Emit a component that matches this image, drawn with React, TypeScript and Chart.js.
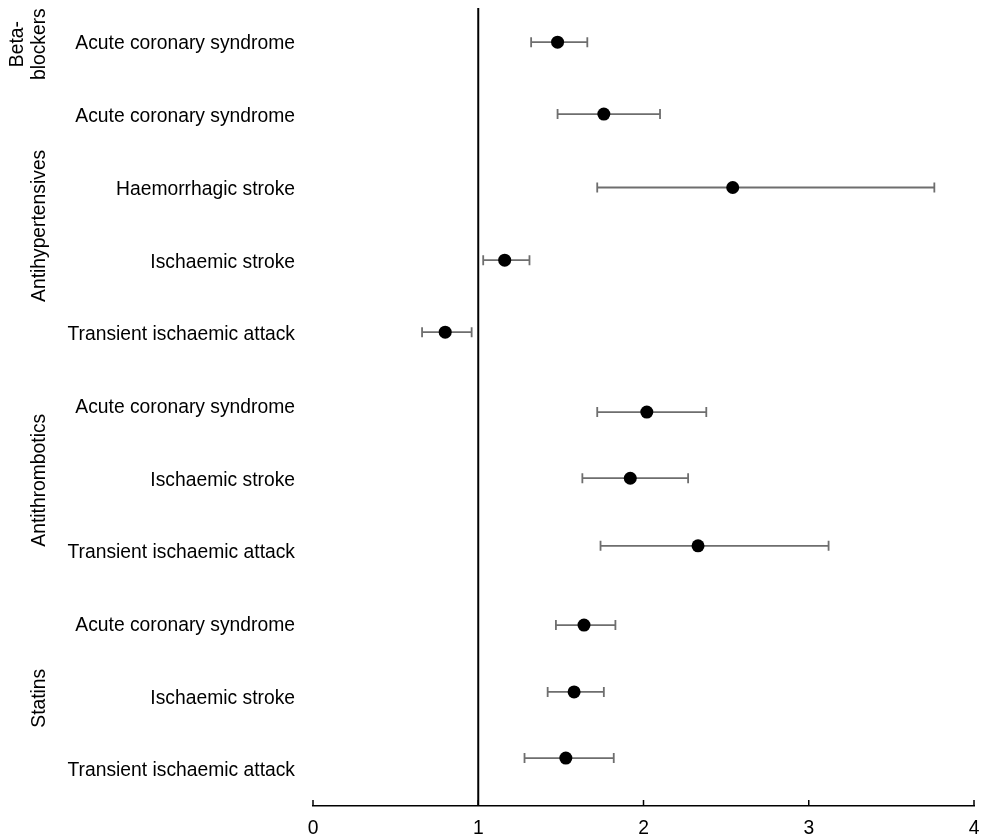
import React, { useEffect, useRef } from "react";
import { Chart, registerables } from "chart.js";

Chart.register(...registerables);

const categories = [
  "Acute coronary syndrome",
  "Acute coronary syndrome",
  "Haemorrhagic stroke",
  "Ischaemic stroke",
  "Transient ischaemic attack",
  "Acute coronary syndrome",
  "Ischaemic stroke",
  "Transient ischaemic attack",
  "Acute coronary syndrome",
  "Ischaemic stroke",
  "Transient ischaemic attack",
];

const groupNames = [["Beta-", "blockers"], ["Antihypertensives"], ["Antithrombotics"], ["Statins"]];
const groupSizes = [1, 4, 3, 3];

const estimates = [1.48, 1.76, 2.54, 1.16, 0.8, 2.02, 1.92, 2.33, 1.64, 1.58, 1.53];
const lowerCI = [1.32, 1.48, 1.72, 1.03, 0.66, 1.72, 1.63, 1.74, 1.47, 1.42, 1.28];
const upperCI = [1.66, 2.1, 3.76, 1.31, 0.96, 2.38, 2.27, 3.12, 1.83, 1.76, 1.82];
const pointRows = [0, 0.99, 2.0, 3.0, 3.99, 5.09, 6.0, 6.93, 8.02, 8.94, 9.85];

const xTicks = [0, 1, 2, 3, 4];
const referenceValue = 1;

const FONT = "'Liberation Sans', Arial, sans-serif";
const FONT_SIZE = 19.3;

export default function App() {
  const ref = useRef<HTMLCanvasElement | null>(null);

  useEffect(() => {
    document.body.style.margin = "0";
    const canvas = ref.current;
    if (!canvas) return;

    const forestPlugin = {
      id: "forest",
      beforeDatasetsDraw(chart: any) {
        const ctx = chart.ctx;
        const xs = chart.scales.x;
        const ys = chart.scales.y;
        const area = chart.chartArea;
        ctx.save();
        ctx.strokeStyle = "#000";
        ctx.lineWidth = 2;
        const rx = xs.getPixelForValue(referenceValue);
        ctx.beginPath();
        ctx.moveTo(rx, area.top);
        ctx.lineTo(rx, area.bottom);
        ctx.stroke();
        ctx.strokeStyle = "#6e6e6e";
        ctx.lineWidth = 1.8;
        for (let i = 0; i < estimates.length; i++) {
          const y = ys.getPixelForValue(pointRows[i]);
          const x1 = xs.getPixelForValue(lowerCI[i]);
          const x2 = xs.getPixelForValue(upperCI[i]);
          ctx.beginPath();
          ctx.moveTo(x1, y);
          ctx.lineTo(x2, y);
          ctx.moveTo(x1, y - 5);
          ctx.lineTo(x1, y + 5);
          ctx.moveTo(x2, y - 5);
          ctx.lineTo(x2, y + 5);
          ctx.stroke();
        }
        ctx.restore();
      },
      afterDraw(chart: any) {
        const ctx = chart.ctx;
        const xs = chart.scales.x;
        const ys = chart.scales.y;
        const area = chart.chartArea;
        ctx.save();
        ctx.strokeStyle = "#000";
        ctx.lineWidth = 1.5;
        for (const t of xTicks) {
          const px = xs.getPixelForValue(t);
          ctx.beginPath();
          ctx.moveTo(px, area.bottom);
          ctx.lineTo(px, area.bottom - 6);
          ctx.stroke();
        }
        ctx.fillStyle = "#000";
        ctx.font = `${FONT_SIZE}px ${FONT}`;
        ctx.textAlign = "center";
        ctx.textBaseline = "middle";
        let start = 0;
        groupNames.forEach((lines, gi) => {
          const end = start + groupSizes[gi] - 1;
          const cy = (ys.getPixelForValue(start) + ys.getPixelForValue(end)) / 2 + 2;
          const lh = 22;
          const cx = 40;
          lines.forEach((line, li) => {
            const x = cx - (lines.length - 1 - li) * lh;
            ctx.save();
            ctx.translate(x, cy);
            ctx.rotate(-Math.PI / 2);
            ctx.fillText(line, 0, 0);
            ctx.restore();
          });
          start = end + 1;
        });
        ctx.restore();
      },
    };

    const chart: any = new Chart(canvas, {
      type: "scatter",
      data: {
        datasets: [
          {
            data: estimates.map((v, i) => ({ x: v, y: pointRows[i] })),
            backgroundColor: "#000",
            borderWidth: 0,
            pointRadius: 6.5,
            pointHoverRadius: 6.5,
          },
        ],
      },
      options: {
        responsive: false,
        animation: false,
        layout: { padding: { top: 8, right: 11, left: 0, bottom: 0 } },
        plugins: { legend: { display: false }, tooltip: { enabled: false } },
        scales: {
          x: {
            type: "linear",
            min: 0,
            max: 4,
            afterBuildTicks: (scale: any) => {
              scale.ticks = xTicks.map((v) => ({ value: v }));
            },
            afterFit: (scale: any) => {
              scale.height = 32;
              scale.paddingLeft = 0;
              scale.paddingRight = 0;
            },
            grid: { display: false, drawTicks: false },
            border: { display: true, color: "#000", width: 1.5 },
            ticks: {
              padding: 11,
              color: "#000",
              font: { size: FONT_SIZE, family: FONT },
              maxRotation: 0,
            },
          },
          y: {
            type: "linear",
            reverse: true,
            min: -0.47,
            max: 10.51,
            afterBuildTicks: (scale: any) => {
              scale.ticks = categories.map((_, i) => ({ value: i }));
            },
            afterFit: (scale: any) => {
              scale.width = 313;
              scale.paddingTop = 0;
              scale.paddingBottom = 0;
            },
            grid: { display: false, drawTicks: false },
            border: { display: false },
            ticks: {
              padding: 18,
              labelOffset: 2,
              color: "#000",
              font: { size: FONT_SIZE, family: FONT },
              callback: (v: any) => categories[Math.round(Number(v))] ?? "",
            },
          },
        },
      },
      plugins: [forestPlugin],
    });

    return () => chart.destroy();
  }, []);

  return (
    <div style={{ width: 985, height: 838 }}>
      <canvas ref={ref} width={985} height={838} />
    </div>
  );
}
